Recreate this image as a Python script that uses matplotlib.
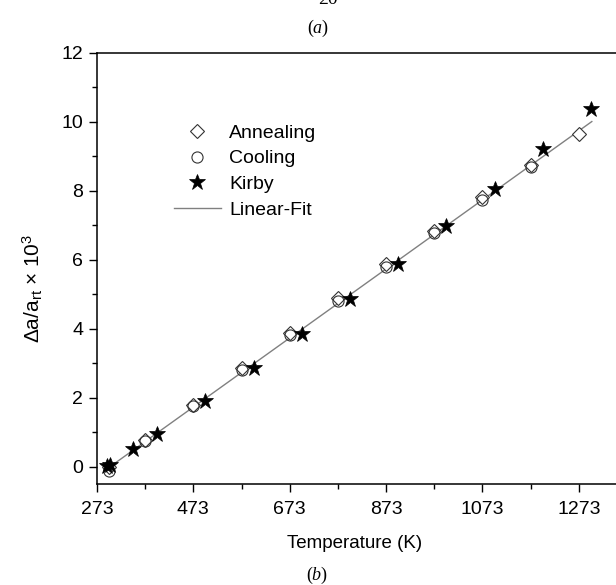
import matplotlib
matplotlib.use("Agg")
import matplotlib.pyplot as plt
from matplotlib.ticker import FixedLocator, MultipleLocator

plt.rcParams['font.family'] = ['Liberation Sans', 'DejaVu Sans']
plt.rcParams['mathtext.fontset'] = 'custom'
plt.rcParams['mathtext.rm'] = 'Liberation Sans'
plt.rcParams['mathtext.it'] = 'Liberation Serif:italic'

# ---- data ----
anneal_T = [298, 373, 473, 573, 673, 773, 873, 973, 1073, 1173, 1273]
anneal_y = [0.0, 0.78, 1.80, 2.85, 3.88, 4.88, 5.87, 6.82, 7.80, 8.75, 9.65]

cool_T = [298, 373, 473, 573, 673, 773, 873, 973, 1073, 1173]
cool_y = [-0.12, 0.74, 1.76, 2.80, 3.82, 4.80, 5.80, 6.76, 7.72, 8.67]

kirby_T = [293, 300, 348, 398, 498, 598, 698, 798, 898, 998, 1098, 1198, 1298]
kirby_y = [0.02, 0.05, 0.51, 0.96, 1.89, 2.86, 3.84, 4.85, 5.88, 6.96, 8.05, 9.20, 10.35]

fit_T = [298, 1300]
fit_y = [-0.02, 10.0]

x_ticks = [273, 473, 673, 873, 1073, 1273]
x_minor = [373, 573, 773, 973, 1173]
y_ticks = [0, 2, 4, 6, 8, 10, 12]

# ---- figure ----
W, H = 616, 585
fig = plt.figure(figsize=(W / 100, H / 100), dpi=100)
ax = fig.add_axes([97 / W, (H - 484) / H, 530 / W, (484 - 52.5) / H])

ax.plot(fit_T, fit_y, color='#808080', lw=1.0, label='Linear-Fit', zorder=1)
ax.plot(anneal_T, anneal_y, ls='none', marker='D', ms=7, mfc='white',
        mec='#333333', mew=0.8, label='Annealing', zorder=2)
ax.plot(cool_T, cool_y, ls='none', marker='o', ms=8, mfc='none',
        mec='#333333', mew=0.8, label='Cooling', zorder=3)
ax.plot(kirby_T, kirby_y, ls='none', marker='*', ms=12, mfc='black',
        mec='black', mew=0.5, label='Kirby', zorder=4)

ax.set_xlim(273, 1373)
ax.set_ylim(-0.5, 12)
ax.xaxis.set_major_locator(FixedLocator(x_ticks))
ax.xaxis.set_minor_locator(FixedLocator(x_minor))
ax.set_xticklabels([str(t) for t in x_ticks])
ax.yaxis.set_major_locator(FixedLocator(y_ticks))
ax.yaxis.set_minor_locator(MultipleLocator(1))

ax.tick_params(which='major', direction='out', length=6, width=1.0,
               labelsize=14, pad=4, top=False, right=False)
ax.tick_params(axis='x', which='major', pad=6)
ax.tick_params(which='minor', direction='out', length=3.5, width=1.0,
               top=False, right=False)
for s in ax.spines.values():
    s.set_linewidth(1.1)

handles, labels = ax.get_legend_handles_labels()
order = [1, 2, 3, 0]
ax.legend([handles[i] for i in order], [labels[i] for i in order],
          loc='upper left', bbox_to_anchor=(174 / W, 1 - 124 / H),
          bbox_transform=fig.transFigure, frameon=False, fontsize=14,
          handlelength=2.4, handletextpad=0.45, labelspacing=0.42,
          borderpad=0, borderaxespad=0)

fig.text(355 / W, 1 - 543 / H, 'Temperature (K)', ha='center', va='center',
         fontsize=13.5)
fig.text(33 / W, 1 - 288 / H, r'Δa/a$_{\rm rt}$ × 10$^{\rm 3}$', ha='center',
         va='center', rotation=90, fontsize=15)

fig.text(318 / W, 1 - 28 / H, r'($\mathit{a}$)', ha='center', va='center',
         fontsize=13, family='Liberation Serif')
fig.text(317 / W, 1 - 575 / H, r'($\mathit{b}$)', ha='center', va='center',
         fontsize=13, family='Liberation Serif')
fig.text(328 / W, 1 - 4 / H, '20', ha='center', va='baseline',
         fontsize=14, family='Liberation Serif')

fig.savefig('out.png', dpi=100)
